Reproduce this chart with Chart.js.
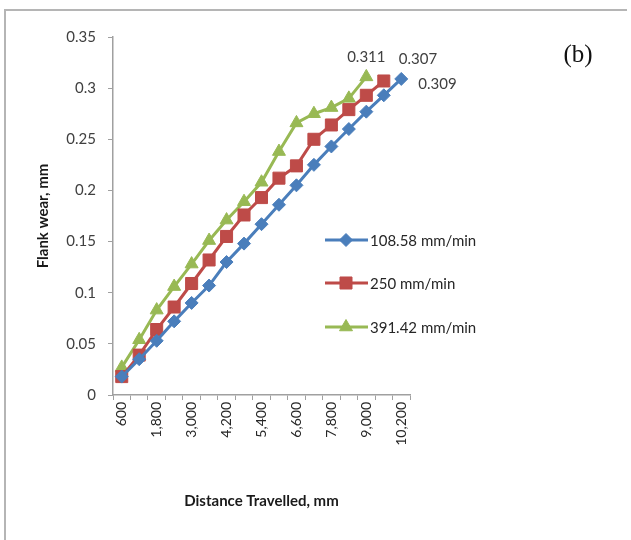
<!DOCTYPE html>
<html>
<head>
<meta charset="utf-8">
<script src="https://cdn.jsdelivr.net/npm/chart.js@4/dist/chart.umd.min.js"></script>
<style>
html,body{margin:0;padding:0;background:#fff;}
#wrap{position:relative;width:631px;height:540px;}
</style>
</head>
<body>
<div id="wrap"><canvas id="c" width="631" height="540"></canvas></div>
<script>
const distances = ["600","1,200","1,800","2,400","3,000","3,600","4,200","4,800","5,400","6,000","6,600","7,200","7,800","8,400","9,000","9,600","10,200"];
const seriesNames = ["108.58 mm/min","250 mm/min","391.42 mm/min"];
const wear108 = [0.018,0.035,0.053,0.072,0.090,0.107,0.130,0.148,0.167,0.186,0.205,0.225,0.243,0.260,0.277,0.293,0.309];
const wear250 = [0.018,0.039,0.064,0.086,0.109,0.132,0.155,0.176,0.193,0.212,0.224,0.250,0.264,0.279,0.293,0.307];
const wear391 = [0.027,0.054,0.083,0.106,0.128,0.151,0.171,0.189,0.208,0.238,0.266,0.275,0.281,0.290,0.311];
const endLabels = ["0.309","0.307","0.311"];
const yTicks = [0,0.05,0.1,0.15,0.2,0.25,0.3,0.35];

const colors = ["#4A7EBB","#BE4B48","#98B954"];
const styles = ["rectRot","rect","triangle"];
const radii = [6.5,8.5,7.5];

const FONT = "Lato, 'Open Sans', sans-serif";

const decor = {
  id:'decor',
  afterDraw(chart){
    const ctx = chart.ctx;
    ctx.save();
    // frame
    ctx.strokeStyle = '#b5b5b5';
    ctx.lineWidth = 2;
    ctx.beginPath();
    ctx.moveTo(5,540); ctx.lineTo(5,10); ctx.lineTo(627,10);
    ctx.stroke();
    // end-point data labels
    ctx.fillStyle = '#404040';
    ctx.font = "15px " + FONT;
    ctx.textBaseline = 'middle';
    const offs = [[17,5,'left'],[15,-22,'left'],[0,-20,'center']];
    [0,1,2].forEach(i=>{
      const meta = chart.getDatasetMeta(i);
      const pt = meta.data[meta.data.length-1];
      ctx.textAlign = offs[i][2];
      ctx.fillText(endLabels[i], pt.x+offs[i][0], pt.y+offs[i][1]);
    });
    // legend
    const ly = [240,283,327];
    ctx.font = "15px " + FONT;
    ctx.textAlign = 'left';
    for(let i=0;i<3;i++){
      ctx.strokeStyle = colors[i];
      ctx.fillStyle = colors[i];
      ctx.lineWidth = 3;
      ctx.beginPath(); ctx.moveTo(325,ly[i]); ctx.lineTo(368,ly[i]); ctx.stroke();
      ctx.lineWidth = 1;
      Chart.helpers.drawPoint(ctx,{pointStyle:styles[i],radius:radii[i],borderWidth:1},346,ly[i]);
      ctx.fillStyle = '#262626';
      ctx.fillText(seriesNames[i],370,ly[i]+1);
    }
    // (b)
    ctx.font = "25px 'Liberation Serif', 'DejaVu Serif', serif";
    ctx.fillStyle = '#111';
    ctx.textAlign = 'center';
    ctx.fillText("(b)", 578, 55);
    ctx.restore();
  }
};

const makeDs = (i,data)=>({
  label: seriesNames[i],
  data: data,
  borderColor: colors[i],
  backgroundColor: colors[i],
  borderWidth: 3,
  pointStyle: styles[i],
  pointRadius: radii[i],
  pointBorderWidth: 1,
  pointBorderColor: colors[i],
  pointBackgroundColor: colors[i],
  tension: 0
});

new Chart(document.getElementById('c'),{
  type:'line',
  data:{ labels: distances, datasets:[makeDs(0,wear108),makeDs(1,wear250),makeDs(2,wear391)] },
  options:{
    responsive:false,
    animation:false,
    devicePixelRatio:1,
    layout:{padding:{left:30,top:37,right:221,bottom:30}},
    plugins:{legend:{display:false},tooltip:{enabled:false}},
    scales:{
      x:{
        type:'category',
        offset:true,
        grid:{display:true,drawOnChartArea:false,offset:true,tickLength:5,color:'#a0a0a0',lineWidth:1},
        border:{display:true,color:'#a0a0a0',width:1.5},
        ticks:{autoSkip:false,maxRotation:90,minRotation:90,padding:2,color:'#262626',
          font:{family:FONT,size:14},
          callback:function(v,i){return i%2===0?this.getLabelForValue(v):'';}},
        title:{display:true,text:'Distance Travelled, mm',color:'#1a1a1a',font:{family:FONT,size:15,weight:'bold'},padding:{top:4,bottom:0}},
        afterFit(s){ s.height = 115; }
      },
      y:{
        min:0,max:0.35,
        afterBuildTicks(s){ s.ticks = yTicks.map(v=>({value:v})); },
        grid:{display:true,drawOnChartArea:false,tickLength:5,color:'#a0a0a0'},
        border:{display:true,color:'#a0a0a0',width:1.5},
        ticks:{padding:12,color:'#404040',font:{family:FONT,size:15},
          callback:(v)=>String(Number(v.toFixed(2)))},
        title:{display:true,text:'Flank wear, mm',color:'#1a1a1a',font:{family:FONT,size:15,weight:'bold'},padding:{top:4,bottom:4}},
        afterFit(s){ s.width = 83; }
      }
    }
  },
  plugins:[decor]
});
</script>
</body>
</html>
